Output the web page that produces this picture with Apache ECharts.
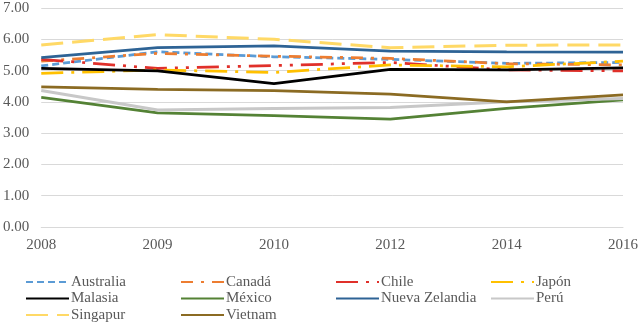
<!DOCTYPE html>
<html>
<head>
<meta charset="utf-8">
<script src="https://cdn.jsdelivr.net/npm/echarts@6/dist/echarts.min.js"></script>
<style>
  html, body { margin: 0; padding: 0; background: #fff; }
</style>
</head>
<body>
<div id="chart" style="width: 641px; height: 322px;"></div>
<script>
const years = ['2008', '2009', '2010', '2012', '2014', '2016']

const australia = [5.15, 5.60, 5.44, 5.36, 5.23, 5.26]
const canada = [5.30, 5.55, 5.46, 5.39, 5.22, 5.18]
const chile = [5.36, 5.07, 5.16, 5.26, 5.02, 4.99]
const japon = [4.91, 5.02, 4.94, 5.18, 5.12, 5.30]
const malasia = [5.07, 4.99, 4.58, 5.04, 5.02, 5.09]
const mexico = [4.14, 3.65, 3.56, 3.45, 3.79, 4.06]
const nuevaZelandia = [5.41, 5.73, 5.79, 5.62, 5.60, 5.59]
const peru = [4.36, 3.74, 3.79, 3.82, 4.00, 4.11]
const singapur = [5.82, 6.15, 6.00, 5.73, 5.81, 5.82]
const vietnam = [4.48, 4.40, 4.36, 4.25, 4.00, 4.22]

const font = '"Liberation Serif", "Times New Roman", serif'
const textColor = '#595959'

function line (name, data, color, type, width) {
  return {
    name: name,
    type: 'line',
    data: data,
    symbol: 'none',
    lineStyle: { color: color, width: width || 2.75, type: type || 'solid', cap: 'butt' },
    itemStyle: { color: color }
  }
}

// one vertical legend per column so the columns line up like the original
function legendCol (left, names) {
  return {
    orient: 'vertical',
    left: left,
    top: 274,
    height: 60,
    itemWidth: 43,
    itemHeight: 12,
    itemGap: 0.5,
    padding: 0,
    itemStyle: { opacity: 0 },
    textStyle: { fontFamily: font, fontSize: 15, color: textColor, padding: [0, 0, 0, -3], lineHeight: 16 },
    data: names
  }
}

const chart = echarts.init(document.getElementById('chart'))
chart.setOption({
  animation: false,
  textStyle: { fontFamily: font },
  grid: { left: 40, right: 18, top: 8, bottom: 95 },
  legend: [
    legendCol(25, ['Australia', 'Malasia', 'Singapur']),
    legendCol(180, ['Canadá', 'México', 'Vietnam']),
    legendCol(335, ['Chile', 'Nueva Zelandia']),
    legendCol(490, ['Japón', 'Perú'])
  ],
  xAxis: {
    type: 'category',
    data: years,
    boundaryGap: false,
    axisLine: { lineStyle: { color: '#D9D9D9' } },
    axisTick: { show: false },
    axisLabel: { fontFamily: font, fontSize: 15, color: textColor, margin: 11 }
  },
  yAxis: {
    type: 'value',
    min: 0,
    max: 7,
    interval: 1,
    axisLine: { show: false },
    axisTick: { show: false },
    splitLine: { lineStyle: { color: '#D9D9D9', width: 1 } },
    axisLabel: {
      fontFamily: font,
      fontSize: 15,
      color: textColor,
      margin: 12,
      formatter: v => v.toFixed(2)
    }
  },
  series: [
    line('Australia', australia, '#5B9BD5', [7, 4]),
    line('Canadá', canada, '#ED7D31', [12, 8, 3, 8]),
    line('Chile', chile, '#E0302A', [22, 8, 3, 8, 3, 8]),
    line('Japón', japon, '#FFC000', [22, 8, 3, 8]),
    line('Malasia', malasia, '#000000'),
    line('México', mexico, '#548235'),
    line('Nueva Zelandia', nuevaZelandia, '#2E6395'),
    line('Perú', peru, '#C8C8C8', 'solid', 3),
    line('Singapur', singapur, '#FFD966', [22, 9], 3),
    line('Vietnam', vietnam, '#8B6B23')
  ]
})
</script>
</body>
</html>
